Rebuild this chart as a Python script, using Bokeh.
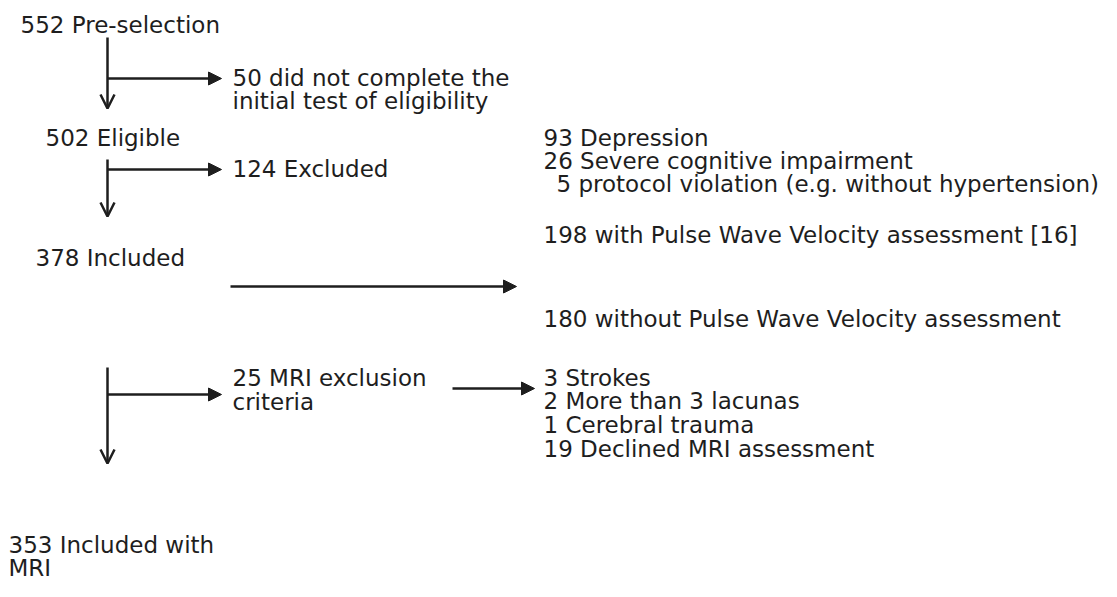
from bokeh.plotting import figure
from bokeh.models import Range1d, Arrow, NormalHead, OpenHead, ColumnDataSource
from bokeh.core.properties import value
from bokeh.embed import file_html
from bokeh.resources import INLINE

# ---- data ----
stage_counts = [552, 502, 378, 353]
stage_names = ["Pre-selection", "Eligible", "Included", "Included with MRI"]
drop_counts = [50, 124, 25]
drop_names = ["did not complete the initial test of eligibility", "Excluded", "MRI exclusion criteria"]
excl_counts = [93, 26, 5]
excl_names = ["Depression", "Severe cognitive impairment", "protocol violation (e.g. without hypertension)"]
pwv_counts = [198, 180]
pwv_names = ["with Pulse Wave Velocity assessment [16]", "without Pulse Wave Velocity assessment"]
mri_counts = [3, 2, 1, 19]
mri_names = ["Strokes", "More than 3 lacunas", "Cerebral trauma", "Declined MRI assessment"]

# ---- layout (picture pixel coordinates: left x, vertical middle y) ----
W, H = 1101, 581
FONT = "DejaVu Sans"
FS = "23px"
INK = "#1e1e1e"

p = figure(width=W, height=H, output_backend="svg", toolbar_location=None,
           x_range=Range1d(0, W), y_range=Range1d(H, 0),
           x_axis_type=None, y_axis_type=None, min_border=0)
p.grid.visible = False
p.outline_line_color = None
p.background_fill_color = "white"
p.border_fill_color = "white"

texts, xs, ys = [], [], []
def add(t, x, y):
    texts.append(t); xs.append(x); ys.append(y)

# stages
stage_pos = [(20, 24), (45, 137), (35, 257), (8, 544)]
for (c, n), (x, y) in zip(zip(stage_counts, stage_names), stage_pos):
    if n == "Included with MRI":
        add(f"{c} Included with", x, y)
        add("MRI", x, y + 23)
    else:
        add(f"{c} {n}", x, y)

# drop-outs (middle column)
MX = 232
add(f"{drop_counts[0]} did not complete the", MX, 77)
add("initial test of eligibility", MX, 100)
add(f"{drop_counts[1]} {drop_names[1]}", MX, 168)
add(f"{drop_counts[2]} MRI exclusion", MX, 377)
add("criteria", MX, 401)

# exclusion reasons
RX = 543
for i, (c, n) in enumerate(zip(excl_counts, excl_names)):
    add(f"{c} {n}", RX if c >= 10 else RX + 13, 137 + 23 * i)

# PWV
add(f"{pwv_counts[0]} {pwv_names[0]}", RX, 234)
add(f"{pwv_counts[1]} {pwv_names[1]}", RX, 318)

# MRI exclusions
for i, (c, n) in enumerate(zip(mri_counts, mri_names)):
    add(f"{c} {n}", RX, 377 + 23.7 * i)

src = ColumnDataSource(dict(x=xs, y=ys, text=texts))
p.text(x="x", y="y", text="text", source=src, text_font=value(FONT),
       text_font_size=FS, text_color=INK, text_baseline="middle", text_align="left")

LW = 2.5
def down(x, y0, y1):
    p.add_layout(Arrow(end=OpenHead(size=14, line_width=LW, line_color=INK),
                       x_start=x, y_start=y0, x_end=x, y_end=y1,
                       line_width=LW, line_color=INK))
def right(x0, x1, y):
    p.add_layout(Arrow(end=NormalHead(size=13, fill_color=INK, line_color=INK, line_width=1),
                       x_start=x0, y_start=y, x_end=x1, y_end=y,
                       line_width=LW, line_color=INK))

VX = 107
down(VX, 37, 108)
right(VX, 221, 78)
down(VX, 159, 216)
right(VX, 221, 169)
right(230, 516, 286)
down(VX, 367, 463)
right(VX, 221, 394)
right(452, 534, 388)

open("out.html", "w").write(file_html(p, INLINE))
